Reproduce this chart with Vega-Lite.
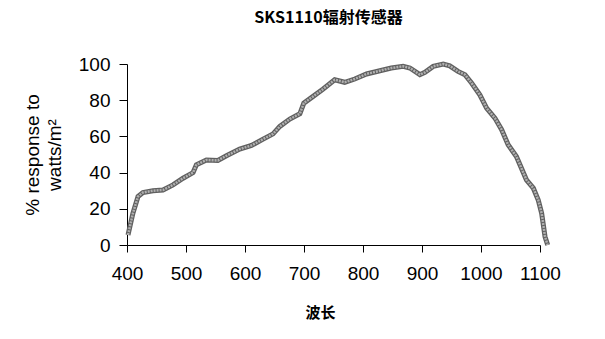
{
  "$schema": "https://vega.github.io/schema/vega-lite/v6.json",
  "autosize": {"type": "none"},
  "padding": {"left": 127, "top": 64, "right": 65, "bottom": 94},
  "width": 413,
  "height": 181,
  "background": "white",
  "title": {
    "text": "SKS1110辐射传感器",
    "font": "Noto Sans CJK SC",
    "fontSize": 16,
    "fontWeight": "bold",
    "color": "black",
    "frame": "group",
    "baseline": "bottom",
    "offset": 12,
    "dx": -5
  },
  "data": {
    "values": [
      {"wl": 401.7, "r": 5.5},
      {"wl": 410, "r": 17.5},
      {"wl": 418.7, "r": 26.8},
      {"wl": 427, "r": 29},
      {"wl": 444, "r": 30},
      {"wl": 461, "r": 30.4},
      {"wl": 478, "r": 33.2},
      {"wl": 495, "r": 36.9},
      {"wl": 512, "r": 40},
      {"wl": 517.6, "r": 44.3},
      {"wl": 534.6, "r": 47},
      {"wl": 554, "r": 46.7},
      {"wl": 568.5, "r": 49.3},
      {"wl": 591, "r": 53},
      {"wl": 611, "r": 55},
      {"wl": 630.7, "r": 58.5},
      {"wl": 647.6, "r": 61.4},
      {"wl": 659, "r": 65.5},
      {"wl": 676, "r": 69.6},
      {"wl": 693, "r": 72.5},
      {"wl": 699.7, "r": 78.4},
      {"wl": 715.5, "r": 82.1},
      {"wl": 732.5, "r": 86.2},
      {"wl": 752, "r": 91.3},
      {"wl": 769, "r": 89.9},
      {"wl": 786, "r": 91.7},
      {"wl": 806, "r": 94.5},
      {"wl": 828.6, "r": 96.3},
      {"wl": 848, "r": 97.8},
      {"wl": 868, "r": 98.7},
      {"wl": 879.5, "r": 97.8},
      {"wl": 896.4, "r": 94.1},
      {"wl": 905, "r": 95.4},
      {"wl": 919, "r": 98.7},
      {"wl": 936, "r": 100},
      {"wl": 947, "r": 99},
      {"wl": 961, "r": 95.9},
      {"wl": 972.8, "r": 94.1},
      {"wl": 984, "r": 89.5},
      {"wl": 998, "r": 83},
      {"wl": 1009.5, "r": 75.6},
      {"wl": 1023.6, "r": 70.1},
      {"wl": 1035, "r": 63.7},
      {"wl": 1046, "r": 55.4},
      {"wl": 1060, "r": 48.9},
      {"wl": 1077, "r": 36},
      {"wl": 1088.7, "r": 31.4},
      {"wl": 1097, "r": 24.9},
      {"wl": 1102.8, "r": 17.5},
      {"wl": 1108.5, "r": 4.6},
      {"wl": 1113, "r": 0}
    ]
  },
  "encoding": {
    "x": {
      "field": "wl",
      "type": "quantitative",
      "scale": {"domain": [400, 1100], "nice": false, "zero": false},
      "axis": {
        "values": [400, 500, 600, 700, 800, 900, 1000, 1100],
        "format": "d",
        "title": "波长",
        "titleFont": "Noto Sans CJK SC",
        "titleFontSize": 15,
        "titleFontWeight": "bold",
        "titleColor": "black",
        "titleX": 193,
        "titleY": 75,
        "titleBaseline": "bottom",
        "labelFont": "Liberation Sans",
        "labelFontSize": 19,
        "labelColor": "black",
        "labelPadding": 12,
        "labelFlush": false,
        "domainColor": "black",
        "tickColor": "black",
        "tickSize": 7,
        "grid": false
      }
    },
    "y": {
      "field": "r",
      "type": "quantitative",
      "scale": {"domain": [0, 100], "nice": false},
      "axis": {
        "values": [0, 20, 40, 60, 80, 100],
        "title": ["% response to", "watts/m²"],
        "titleFont": "Liberation Sans",
        "titleFontSize": 19,
        "titleFontWeight": "normal",
        "titleColor": "black",
        "titleLineHeight": 22,
        "titlePadding": 14,
        "labelFont": "Liberation Sans",
        "labelFontSize": 19,
        "labelColor": "black",
        "labelPadding": 9,
        "domainColor": "black",
        "tickColor": "black",
        "tickSize": 8,
        "grid": false
      }
    }
  },
  "layer": [
    {"mark": {"type": "line", "color": "#606060", "strokeWidth": 5, "clip": false}},
    {"mark": {"type": "line", "color": "#b0b0b0", "strokeWidth": 2.5, "strokeDash": [2, 1], "clip": false}}
  ],
  "config": {"view": {"stroke": null}}
}
